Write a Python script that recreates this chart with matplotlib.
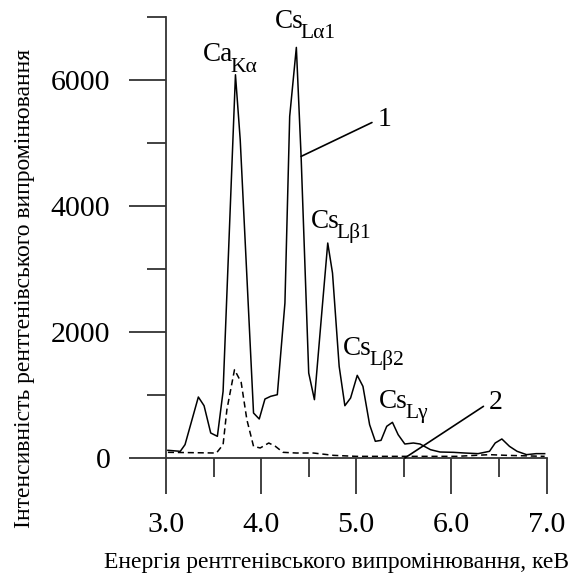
import matplotlib
matplotlib.use("Agg")
import matplotlib.pyplot as plt
from matplotlib.ticker import MultipleLocator

plt.rcParams['font.family'] = ['Liberation Serif', 'DejaVu Serif']

# Curve 1 (solid)
energy1 = [3.02, 3.15, 3.20, 3.34, 3.40, 3.47, 3.54, 3.60, 3.73, 3.78, 3.92, 3.98,
           4.04, 4.10, 4.17, 4.25, 4.30, 4.37, 4.42, 4.50, 4.56, 4.64, 4.70, 4.75,
           4.82, 4.88, 4.94, 5.01, 5.07, 5.14, 5.20, 5.26, 5.32, 5.38, 5.44, 5.51,
           5.60, 5.67, 5.78, 5.88, 6.02, 6.14, 6.28, 6.40, 6.46, 6.53, 6.61, 6.69,
           6.79, 6.89, 6.98]
intensity1 = [122, 106, 212, 968, 830, 397, 344, 1058, 6083, 5052, 714, 619,
              936, 979, 1005, 2460, 5422, 6517, 4787, 1349, 926, 2354, 3412, 2936,
              1455, 830, 952, 1312, 1137, 529, 265, 280, 503, 566, 370, 222,
              238, 222, 132, 95, 90, 79, 69, 106, 238, 302, 185, 106,
              53, 69, 69]

# Curve 2 (dashed)
energy2 = [3.02, 3.53, 3.60, 3.64, 3.72, 3.79, 3.85, 3.92, 3.99, 4.08, 4.15, 4.23,
           4.37, 4.55, 4.76, 5.00, 5.35, 5.77, 6.05, 6.40, 6.58, 6.98]
intensity2 = [90, 79, 212, 767, 1402, 1201, 608, 185, 159, 238, 185, 90,
              79, 79, 42, 26, 26, 26, 26, 53, 42, 26]

x_ticks = [3.0, 4.0, 5.0, 6.0, 7.0]
x_tick_labels = ["3.0", "4.0", "5.0", "6.0", "7.0"]
y_ticks = [0, 2000, 4000, 6000]
y_tick_labels = ["0", "2000", "4000", "6000"]

peak_main = ["Ca", "Cs", "Cs", "Cs", "Cs"]
peak_sub = ["Kα", "Lα1", "Lβ1", "Lβ2", "Lγ"]
peak_label_x = [3.39, 4.145, 4.52, 4.86, 5.24]
peak_label_y = [6300, 6825, 3650, 1635, 794]

fig = plt.figure(figsize=(5.79, 5.74), dpi=100)
ax = fig.add_axes([0.2867, 0.2021, 0.944 - 0.2867, 0.9704 - 0.2021])

ax.plot(energy1, intensity1, color='black', lw=1.1)
ax.plot(energy2, intensity2, color='black', lw=1.1, ls=(0, (4, 2.5)))

ax.set_xlim(3.0, 7.0)
ax.set_ylim(0, 7000)
for s in ['top', 'right']:
    ax.spines[s].set_visible(False)
for s in ['left', 'bottom']:
    ax.spines[s].set_linewidth(1.3)
    ax.spines[s].set_color('#333333')

ax.set_xticks(x_ticks)
ax.set_xticklabels(x_tick_labels)
ax.set_yticks(y_ticks)
ax.set_yticklabels(y_tick_labels)
ax.xaxis.set_minor_locator(MultipleLocator(0.5))
ax.yaxis.set_minor_locator(MultipleLocator(1000))
ax.tick_params(axis='x', which='major', direction='out', length=26, width=1.3,
               color='#333333', labelsize=21.5, pad=13)
ax.tick_params(axis='x', which='minor', direction='out', length=13.5, width=1.3,
               color='#333333')
ax.tick_params(axis='y', which='major', direction='out', length=26.5, width=1.3,
               color='#333333', labelsize=21.5, pad=13.5)
ax.tick_params(axis='y', which='minor', direction='out', length=13.5, width=1.3,
               color='#333333')

fig.text(0.582, 0.0105, "Енергія рентгенівського випромінювання, кеВ",
         ha='center', va='baseline', fontsize=17)
fig.text(0.042, 0.498, "Інтенсивність рентгенівського випромінювання",
         ha='center', va='center', rotation=90, fontsize=17)

fig.canvas.draw()
renderer = fig.canvas.get_renderer()
for m, sub, lx, ly in zip(peak_main, peak_sub, peak_label_x, peak_label_y):
    t = ax.text(lx, ly, m, ha='left', va='baseline', fontsize=19.5)
    bb = t.get_window_extent(renderer)
    wpt = bb.width * 72.0 / fig.dpi
    ax.annotate(sub, xy=(lx, ly), xycoords='data',
                xytext=(wpt - 2.0, -7.5), textcoords='offset points',
                ha='left', va='baseline', fontsize=15.5)

ax.annotate("1", xy=(4.42, 4787), xytext=(5.22, 5365), ha='left', va='center',
            fontsize=20,
            arrowprops=dict(arrowstyle='-', lw=1.2, color='black',
                            shrinkA=2, shrinkB=0, relpos=(0, 0.5)))
ax.annotate("2", xy=(5.51, 0), xytext=(6.39, 873), ha='left', va='center',
            fontsize=20,
            arrowprops=dict(arrowstyle='-', lw=1.2, color='black',
                            shrinkA=2, shrinkB=0, relpos=(0, 0.5)))

fig.savefig("out.png", dpi=100)
